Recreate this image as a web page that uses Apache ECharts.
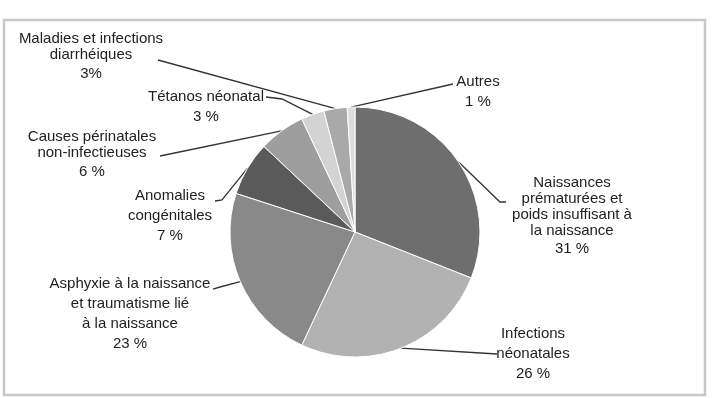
<!DOCTYPE html>
<html>
<head>
<meta charset="utf-8">
<script src="https://cdn.jsdelivr.net/npm/echarts@6/dist/echarts.min.js"></script>
<style>
  html, body { margin: 0; padding: 0; background: #fff; }
  #main { width: 713px; height: 398px; }
</style>
</head>
<body>
<div id="main"></div>
<script>
'use strict'
// causes of neonatal deaths, clockwise from 12 o'clock
var names = [
    'Naissances\nprématurées et\npoids insuffisant à\nla naissance',
    'Infections\nnéonatales',
    'Asphyxie à la naissance\net traumatisme lié\nà la naissance',
    'Anomalies\ncongénitales',
    'Causes périnatales\nnon-infectieuses',
    'Tétanos néonatal',
    'Maladies et infections\ndiarrhéiques',
    'Autres'
];
var values = [31, 26, 23, 7, 6, 3, 3, 1];
var pctLabels = ['31 %', '26 %', '23 %', '7 %', '6 %', '3 %', '3%', '1 %'];

var colors = ['#6e6e6e', '#b2b2b2', '#898989', '#5a5a5a', '#9e9e9e', '#d3d3d3', '#a9a9a9', '#dedede'];

// label block centre, line spacing, and where its leader line ends (label side)
var labelPos = [
    { x: 572, y: 216.5, lh: 16, plh: 20, end: [[500, 202], [506, 202]] },
    { x: 533, y: 354,   lh: 20, plh: 20, end: [[497, 354]] },
    { x: 130, y: 313.5, lh: 20, plh: 20, end: [[220, 287], [213, 289]] },
    { x: 170, y: 216,   lh: 20, plh: 20, end: [[222, 200], [215, 201]] },
    { x: 92,  y: 155.5, lh: 16, plh: 21, end: [[160, 156]] },
    { x: 206, y: 107,   lh: 20, plh: 21, end: [[282, 99], [266, 97]] },
    { x: 91,  y: 58,    lh: 16, plh: 22, end: [[158, 60]] },
    { x: 478, y: 92,    lh: 20, plh: 21, end: [[453, 84]] }
];

var fontFam = 'Liberation Sans, Arial, Helvetica, sans-serif';

var pieData = names.map(function (n, i) {
    return {
        name: n,
        value: values[i],
        itemStyle: { color: colors[i] },
        label: {
            formatter: '{n|' + n.split('\n').join('}\n{n|') + '}\n{p|' + pctLabels[i] + '}',
            rich: {
                n: { fontSize: 15, lineHeight: labelPos[i].lh, color: '#222', fontFamily: fontFam, align: 'center' },
                p: { fontSize: 15, lineHeight: labelPos[i].plh, color: '#222', fontFamily: fontFam, align: 'center' }
            }
        }
    };
});

var option = {
    backgroundColor: '#fff',
    animation: false,
    graphic: [
        {
            type: 'rect',
            shape: { x: 4, y: 20, width: 701, height: 375 },
            style: { fill: 'none', stroke: '#c8c8c8', lineWidth: 2.5 },
            z: 0
        }
    ],
    series: [
        {
            type: 'pie',
            center: [355, 232],
            radius: 125,
            startAngle: 90,
            clockwise: true,
            avoidLabelOverlap: false,
            itemStyle: { borderColor: '#fff', borderWidth: 1 },
            label: {
                show: true,
                position: 'outside',
                align: 'center'
            },
            labelLine: {
                show: true,
                length: 8,
                length2: 10,
                lineStyle: { color: '#333', width: 1.3 }
            },
            labelLayout: function (params) {
                var p = labelPos[params.dataIndex];
                // keep the sector-side point from the pie layout, end at the label
                var start = params.labelLinePoints ? params.labelLinePoints[0] : null;
                var out = {
                    x: p.x,
                    y: p.y,
                    align: 'center',
                    verticalAlign: 'middle'
                };
                if (start) {
                    out.labelLinePoints = [start].concat(p.end);
                }
                return out;
            },
            data: pieData
        }
    ]
};

var myChart = echarts.init(document.getElementById('main'));
myChart.setOption(option);
</script>
</body>
</html>
